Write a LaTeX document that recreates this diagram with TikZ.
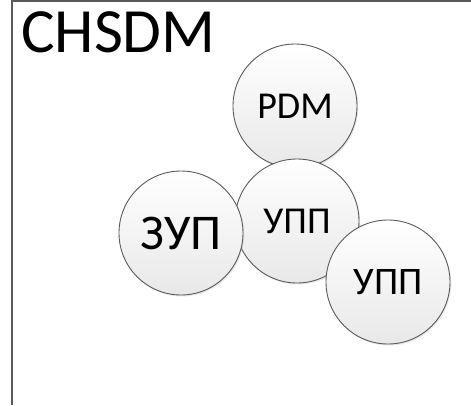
\documentclass[tikz,border=0pt]{standalone}
\usepackage{fontspec}
\setmainfont{Carlito}
\usetikzlibrary{shadows}

\definecolor{rimgray}{HTML}{5A5A5A}
\tikzstyle{bubble}=[draw=rimgray,line width=0.9pt,circle,minimum size=124pt,inner sep=0pt,
  top color=white,bottom color=black!9,
  drop shadow={opacity=0.18,shadow xshift=1.2pt,shadow yshift=-1.5pt}]
\tikzstyle{frame} = [draw=rimgray,line width=1.2pt]

\begin{document}
\begin{tikzpicture}[x=1pt, y=-1pt]
    \useasboundingbox (0,0) rectangle (471,405);
    % Frame and title
    \path[frame] (12,405) -- (12,1) -- (471,1);
    \node[anchor=base west,inner sep=0pt,font=\fontsize{63}{63}\selectfont] (title) at (21,52) {CHSDM};
    % Then the bubbles, back to front
    \foreach \pos/\name/\txt/\fs in {{(295,106)/pdm/PDM/38}, {(297,221)/upp/УПП/38},
                                     {(181,233)/zup/ЗУП/50}, {(388,282)/uppb/УПП/39}}
        \node[bubble,font=\fontsize{\fs}{\fs}\selectfont] (\name) at \pos {\txt};
\end{tikzpicture}
\end{document}
